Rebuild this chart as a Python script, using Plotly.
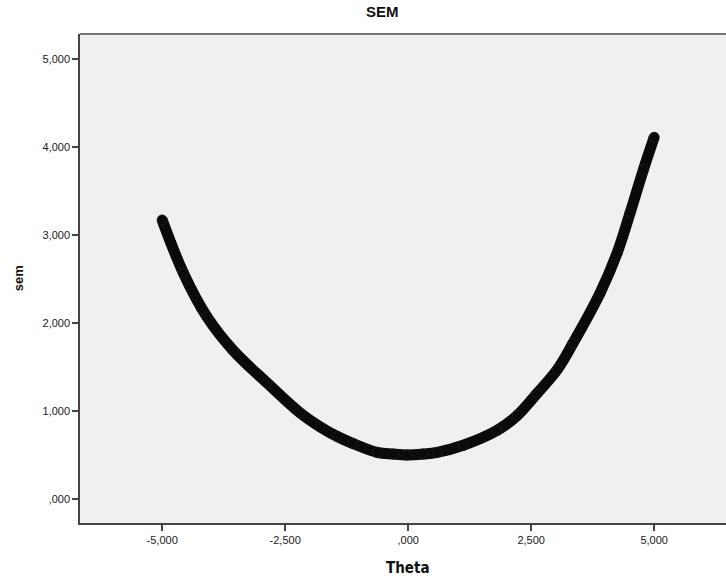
import plotly.graph_objects as go

# Data
theta = [-5.0, -4.57, -4.09, -3.56, -2.87, -2.20, -1.79, -1.44, -1.12, -0.63, -0.30, -0.02,
         0.30, 0.59, 1.12, 1.81, 2.22, 2.62, 3.03, 3.35, 3.90, 4.25, 4.51, 4.78, 5.0]
sem = [3.17, 2.57, 2.07, 1.69, 1.32, 0.98, 0.82, 0.71, 0.63, 0.53, 0.51, 0.50,
       0.51, 0.53, 0.61, 0.78, 0.95, 1.20, 1.47, 1.77, 2.34, 2.80, 3.25, 3.74, 4.11]

x_tickvals = [-5, -2.5, 0, 2.5, 5]
x_ticktext = ["-5,000", "-2,500", ",000", "2,500", "5,000"]
y_tickvals = [0, 1, 2, 3, 4, 5]
y_ticktext = [",000", "1,000", "2,000", "3,000", "4,000", "5,000"]

fig = go.Figure()
fig.add_trace(go.Scatter(
    x=theta, y=sem, mode="lines+markers",
    line=dict(color="#0a0a0a", width=11, shape="spline", smoothing=1.0),
    marker=dict(size=10, color="#0a0a0a", line=dict(color="#1a1a1a", width=1)),
    hoverinfo="x+y", showlegend=False,
))

axis_font = dict(family="Liberation Sans, Arial, sans-serif", size=11, color="#1a1a1a")

fig.update_layout(
    width=726, height=578,
    margin=dict(l=80, r=0, t=34, b=55),
    paper_bgcolor="white",
    plot_bgcolor="#f0f0f0",
    xaxis=dict(
        range=[-6.67, 6.46], tickvals=x_tickvals, ticktext=x_ticktext,
        showgrid=False, zeroline=False,
        showline=True, linecolor="#444444", linewidth=1.5, mirror=False,
        ticks="outside", ticklen=6, tickcolor="#444444", tickwidth=1.5,
        tickfont=axis_font,
    ),
    yaxis=dict(
        range=[-0.273, 5.284], tickvals=y_tickvals, ticktext=y_ticktext,
        showgrid=False, zeroline=False,
        showline=True, linecolor="#444444", linewidth=1.5, mirror=False,
        ticks="outside", ticklen=6, tickcolor="#444444", tickwidth=1.5,
        tickfont=axis_font,
    ),
    shapes=[dict(type="line", xref="paper", yref="paper", x0=0, x1=1, y0=1, y1=1,
                 line=dict(color="#777777", width=2))],
    annotations=[
        dict(text="<b>SEM</b>", xref="paper", yref="paper", x=0.469, y=1.045,
             xanchor="center", yanchor="middle", showarrow=False,
             font=dict(family="Liberation Sans, Arial, sans-serif", size=15, color="#111111")),
        dict(text="<b>Theta</b>", xref="paper", yref="paper", x=0.507, y=-0.092,
             xanchor="center", yanchor="middle", showarrow=False,
             font=dict(family="DejaVu Sans Condensed, DejaVu Sans, sans-serif", size=15, color="#111111")),
        dict(text="<b>sem</b>", xref="paper", yref="paper", x=-0.095, y=0.5,
             xanchor="center", yanchor="middle", showarrow=False, textangle=-90,
             font=dict(family="Liberation Sans, Arial, sans-serif", size=13, color="#111111")),
    ],
)

fig.write_html("out.html")
